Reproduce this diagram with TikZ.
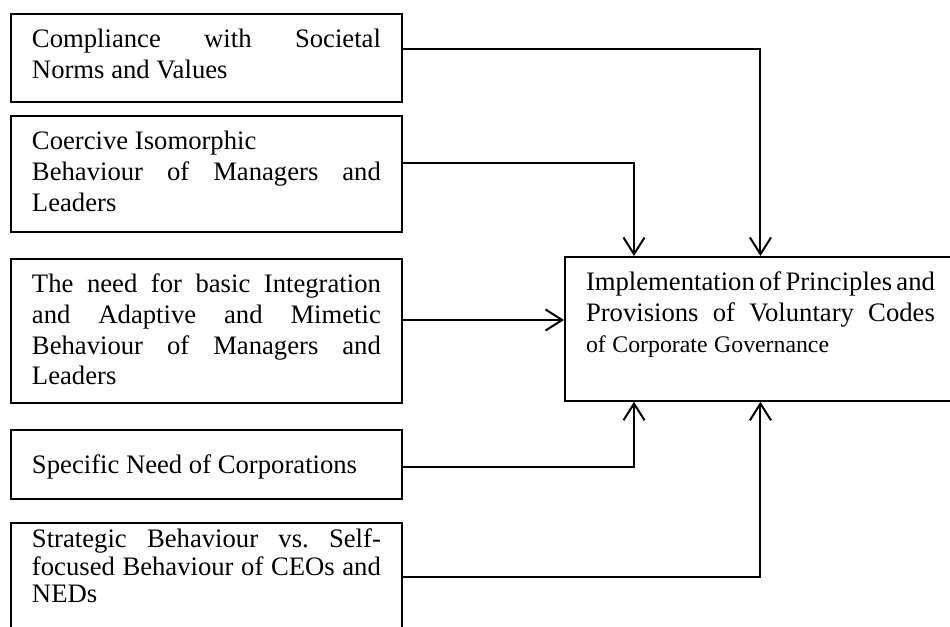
\documentclass[tikz,border=0pt]{standalone}
\usepackage{fontspec}
\setmainfont{Liberation Serif}
\usetikzlibrary{arrows.meta}

\tikzset{
  factor/.style={draw, line width=0.8pt, anchor=north west, text width=157pt,
    inner xsep=9.5pt, inner ysep=0pt, align=justify, text height=15.3pt,
    font=\fontsize{12}{13.8}\selectfont},
  link/.style={line width=0.9pt, -{Straight Barb[length=7.5pt,width=9.5pt]}}
}

\begin{document}
\begin{tikzpicture}[x=0.45pt,y=0.45pt,yscale=-1,xscale=1]
\useasboundingbox (0,0) rectangle (950,627);
\clip (0,0) rectangle (950,627);

% Factor Boxes
\node [factor, text depth=24.3pt] (norms) at (10,13) {Compliance with Societal\linebreak Norms and Values};
\node [factor, text depth=36.9pt] (coercive) at (10,115) {Coercive Isomorphic\newline Behaviour of Managers and\linebreak Leaders};
\node [factor, text depth=49.5pt] (mimetic) at (10,258) {The need for basic Integration\linebreak and Adaptive and Mimetic\linebreak Behaviour of Managers and\linebreak Leaders};
\node [factor, text height=19.8pt, text depth=11.25pt] (need) at (10,429) {Specific Need of Corporations};
\node [factor, text height=11.25pt, text depth=45pt, font=\fontsize{12}{12.4}\selectfont] (strategic) at (10,522) {Strategic Behaviour vs.\ Self-\linebreak focused Behaviour of CEOs and\linebreak NEDs};

% Outcome Box
\node [factor, text depth=49.5pt] (impl) at (564,256) {\spaceskip=0.25em plus 0.4em minus 0.16em\relax
  Implementation of Principles and\linebreak Provisions of Voluntary Codes\linebreak {\fontsize{10.7}{13.8}\selectfont of Corporate Governance}};

% Links
\draw [link] ([yshift=16.2pt]norms.north east) -| (impl.north);
\draw [link] ([yshift=21.6pt]coercive.north east) -| ([xshift=31.5pt]impl.north west);
\draw [link] ([yshift=27.9pt]mimetic.north east) -- ([yshift=27.9pt]mimetic.north east -| impl.west);
\draw [link] ([yshift=17.1pt]need.north east) -| ([xshift=31.5pt]impl.south west);
\draw [link] ([yshift=24.75pt]strategic.north east) -| (impl.south);

\end{tikzpicture}
\end{document}
